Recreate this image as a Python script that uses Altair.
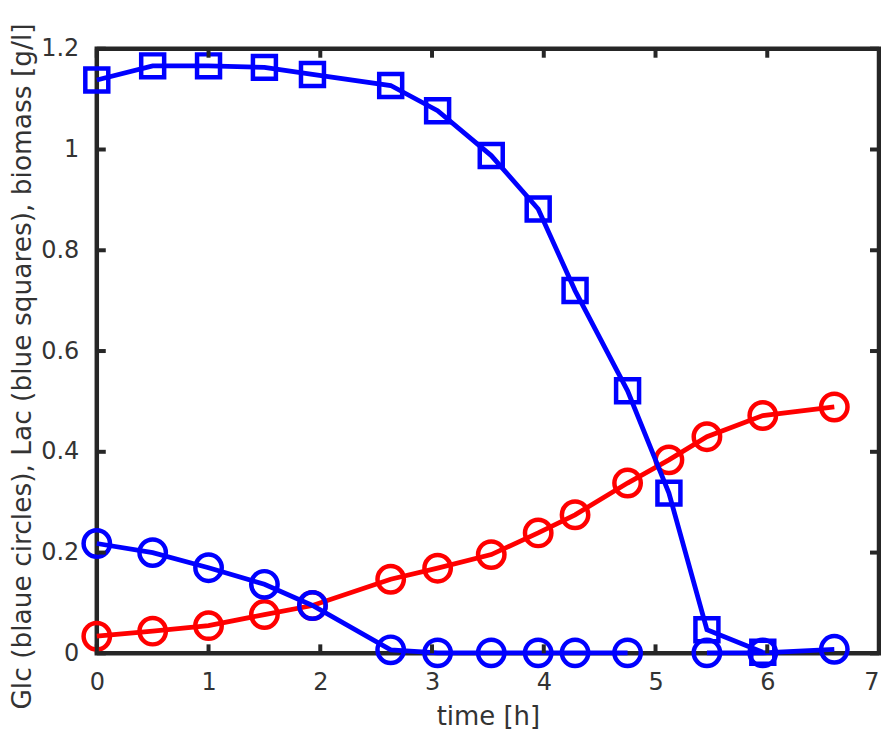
import altair as alt
import pandas as pd

# ---- data ----
time_h = [0.0, 0.5, 1.0, 1.5, 1.93, 2.63, 3.05, 3.53, 3.95, 4.28, 4.75, 5.12, 5.46, 5.96, 6.6]
glc = [0.218, 0.200, 0.170, 0.137, 0.095, 0.007, 0.001, 0.001, 0.001, 0.001, 0.001, None, 0.001, 0.001, 0.008]
lac = [1.138, 1.166, 1.166, 1.163, 1.149, 1.127, 1.077, 0.988, 0.882, 0.720, 0.521, 0.318, 0.047, 0.002, None]
biomass = [0.034, 0.044, 0.055, 0.077, 0.095, 0.147, 0.169, 0.196, 0.239, 0.275, 0.338, 0.384, 0.430, 0.472, 0.489]

x_ticks = [0, 1, 2, 3, 4, 5, 6, 7]
y_ticks = [0, 0.2, 0.4, 0.6, 0.8, 1.0, 1.2]

W, H = 784, 606
AX = "#262626"
TXT = "#333333"
FONT = "DejaVu Sans"

rows = []
for name, vals in [("biomass", biomass), ("glc", glc), ("lac", lac)]:
    for t, v in zip(time_h, vals):
        rows.append({"series": name, "t": t, "v": v})
df = pd.DataFrame(rows)

xs = alt.Scale(domain=[0, 7], nice=False, zero=False)
ys = alt.Scale(domain=[0, 1.2], nice=False, zero=False)

x_axis = alt.Axis(values=x_ticks, format="d", title="time [h]", labelPadding=17,
                  labelAlign={"expr": "datum.value == 7 ? 'right' : 'center'"},
                  titleFontSize=26, titleBaseline="alphabetic", titleY=71, titleX=W / 2)
y_axis = alt.Axis(values=y_ticks, title="Glc (blaue circles), Lac (blue squares), biomass [g/l]",
                  labelPadding=18, titleFontSize=26.5, titleBaseline="middle",
                  titleX=-74, titleY=318, titleAngle=270,
                  labelExpr="datum.value == 0 ? '0' : datum.value == 1 ? '1' : format(datum.value, '.1f')")

base = alt.Chart(df)

layers = []
styles = [("biomass", "#FF0000", "circle", 700), ("glc", "#0000FF", "circle", 700), ("lac", "#0000FF", "square", 530)]
for name, col, shape, size in styles:
    sub = base.transform_filter(alt.datum.series == name)
    line = sub.mark_line(color=col, strokeWidth=4.8, invalid="break-paths-show-domains").encode(
        x=alt.X("t:Q", scale=xs, axis=x_axis), y=alt.Y("v:Q", scale=ys, axis=y_axis), order="t:Q")
    pts = sub.transform_filter("isValid(datum.v)").mark_point(
        shape=shape, size=size, filled=False, color=col, strokeWidth=4.5, opacity=1).encode(
        x=alt.X("t:Q", scale=xs, axis=x_axis), y=alt.Y("v:Q", scale=ys, axis=y_axis))
    layers += [line, pts]

xt = pd.DataFrame({"t": x_ticks})
yt = pd.DataFrame({"v": y_ticks})
TL = 9
tick_layers = [
    alt.Chart(xt).mark_rule(color=AX, strokeWidth=4).encode(
        x=alt.X("t:Q", scale=xs, axis=x_axis), y=alt.value(H), y2=alt.value(H - TL)),
    alt.Chart(xt).mark_rule(color=AX, strokeWidth=4).encode(
        x=alt.X("t:Q", scale=xs, axis=x_axis), y=alt.value(0), y2=alt.value(TL)),
    alt.Chart(yt).mark_rule(color=AX, strokeWidth=4).encode(
        y=alt.Y("v:Q", scale=ys, axis=y_axis), x=alt.value(0), x2=alt.value(TL)),
    alt.Chart(yt).mark_rule(color=AX, strokeWidth=4).encode(
        y=alt.Y("v:Q", scale=ys, axis=y_axis), x=alt.value(W), x2=alt.value(W - TL)),
]

chart = alt.layer(*layers, *tick_layers).properties(
    width=W, height=H,
    autosize=alt.AutoSizeParams(type="none"),
    padding={"left": 89, "top": 40, "right": 2, "bottom": 76},
).configure(background="white").configure_view(
    stroke=AX, strokeWidth=4.5
).configure_axis(
    grid=False, ticks=False, domain=False, labelFontSize=24,
    labelFont=FONT, titleFont=FONT, labelColor=TXT, titleColor=TXT,
    titleFontWeight="normal", labelFlush=False, labelOverlap=False,
)

chart.save("out.html", embed_options={"renderer": "svg", "actions": False})
